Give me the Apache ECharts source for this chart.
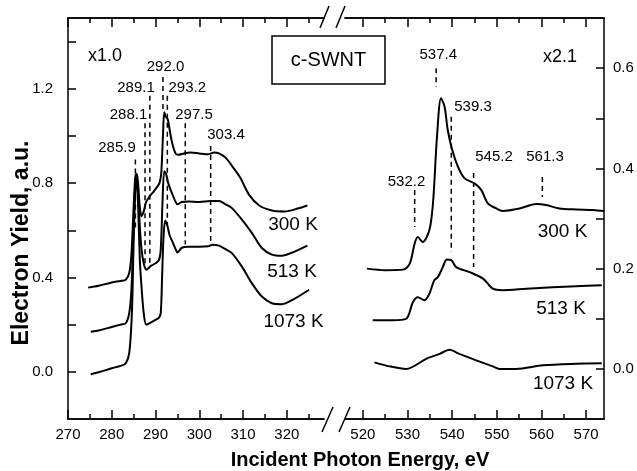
<!DOCTYPE html>
<html>
<head>
<meta charset="utf-8">
<script src="https://cdn.jsdelivr.net/npm/echarts@6/dist/echarts.min.js"></script>
<style>
  html, body { margin: 0; padding: 0; background: #fff; }
  #main { width: 637px; height: 471px; }
</style>
</head>
<body>
<div id="main"></div>
<script>
// C K-edge, left panel (x1.0)
var cE300 = [274.6, 277, 280, 282, 283.2, 284.0, 284.5, 285.0, 285.4, 285.7, 286.0, 286.4, 286.8, 287.3, 287.8, 288.5, 289.6, 290.4, 290.9, 291.3, 291.7, 292.0, 292.4, 292.8, 293.1, 293.8, 294.6, 295.2, 296.5, 298, 300, 302, 303.4, 304.5, 306, 307.5, 309.3, 311.4, 313.7, 316.6, 319.5, 322.5, 324.7];
var c300 = [0.357, 0.365, 0.379, 0.385, 0.39, 0.42, 0.50, 0.70, 0.83, 0.84, 0.80, 0.70, 0.66, 0.68, 0.717, 0.74, 0.765, 0.785, 0.80, 0.84, 1.00, 1.10, 1.08, 1.07, 1.04, 0.97, 0.925, 0.92, 0.926, 0.93, 0.926, 0.922, 0.93, 0.926, 0.908, 0.872, 0.825, 0.75, 0.705, 0.684, 0.68, 0.692, 0.705];

var cE513 = [275.2, 277, 280, 282, 283.2, 284.0, 284.5, 285.0, 285.4, 285.7, 286.0, 286.4, 286.8, 287.3, 287.9, 289.0, 290.0, 290.8, 291.2, 291.6, 292.0, 292.4, 292.9, 293.7, 294.6, 295.0, 296.0, 297.5, 300, 302.6, 304.5, 306, 307.4, 309.7, 312.0, 314.3, 316.6, 318.9, 321.3, 324.7];
var c513 = [0.17, 0.175, 0.19, 0.20, 0.206, 0.25, 0.35, 0.62, 0.80, 0.82, 0.78, 0.62, 0.52, 0.46, 0.433, 0.45, 0.46, 0.475, 0.52, 0.72, 0.85, 0.84, 0.80, 0.76, 0.72, 0.71, 0.72, 0.722, 0.72, 0.724, 0.724, 0.71, 0.695, 0.646, 0.589, 0.525, 0.497, 0.492, 0.506, 0.535];

var cE1073 = [275.2, 277, 280, 282, 283.2, 284.0, 284.6, 285.0, 285.4, 285.7, 286.0, 286.4, 286.8, 287.3, 287.9, 289.0, 290.0, 290.8, 291.2, 291.5, 291.8, 292.2, 292.7, 293.2, 293.9, 294.6, 295.0, 296.0, 297.5, 300, 302, 303.0, 304.5, 306, 307.4, 309.7, 312.0, 314.3, 316.6, 318.9, 321.3, 325.1];
var c1073 = [-0.01, -0.002, 0.015, 0.025, 0.036, 0.08, 0.25, 0.55, 0.78, 0.80, 0.72, 0.48, 0.36, 0.25, 0.20, 0.21, 0.22, 0.23, 0.25, 0.40, 0.56, 0.64, 0.62, 0.58, 0.55, 0.52, 0.506, 0.526, 0.53, 0.53, 0.532, 0.539, 0.535, 0.52, 0.504, 0.447, 0.376, 0.319, 0.291, 0.287, 0.305, 0.348];

// O K-edge, right panel (x2.1)
var oE300 = [520.9, 525, 529.0, 530.5, 531.6, 532.3, 533.4, 534.9, 535.7, 536.6, 537.5, 538.3, 539.0, 540.0, 541.3, 542.8, 545.0, 546.5, 548.0, 549.9, 551.3, 555.1, 558.8, 561.0, 564.0, 567.8, 571.5, 574];
var o300 = [0.200, 0.197, 0.198, 0.210, 0.250, 0.263, 0.253, 0.277, 0.330, 0.463, 0.540, 0.523, 0.477, 0.437, 0.403, 0.380, 0.370, 0.357, 0.330, 0.320, 0.315, 0.320, 0.329, 0.327, 0.320, 0.318, 0.317, 0.315];

var oE513 = [522.2, 526.7, 529.7, 531.2, 532.3, 533.8, 534.9, 536.0, 536.8, 537.9, 538.8, 539.8, 540.9, 543.9, 546.9, 549.1, 551.3, 556.6, 562.5, 567.8, 573.5];
var o513 = [0.097, 0.097, 0.100, 0.133, 0.143, 0.137, 0.150, 0.177, 0.183, 0.203, 0.218, 0.217, 0.203, 0.193, 0.180, 0.160, 0.157, 0.160, 0.163, 0.165, 0.167];

var oE1073 = [522.6, 526, 529.7, 534.2, 537.2, 539.4, 541.6, 545.4, 549.1, 550.6, 554.3, 560.3, 567.8, 573.5];
var o1073 = [0.013, 0.005, 0.000, 0.020, 0.030, 0.038, 0.030, 0.017, 0.005, 0.000, 0.000, 0.007, 0.010, 0.011];

// dashed peak markers
var cMarkE = [285.4, 287.6, 288.7, 291.7, 292.7, 296.8, 302.6];
var cMarkTop = [0.90, 1.054, 1.17, 1.25, 1.17, 1.054, 0.957];
var cMarkBottom = [0.60, 0.44, 0.445, 1.11, 0.62, 0.54, 0.548];
var cMarkText = ['285.9', '288.1', '289.1', '292.0', '293.2', '297.5', '303.4'];

var oMarkE = [531.6, 536.4, 539.8, 544.8, 560.2];
var oMarkTop = [0.357, 0.600, 0.503, 0.391, 0.383];
var oMarkBottom = [0.283, 0.563, 0.233, 0.203, 0.343];
var oMarkText = ['532.2', '537.4', '539.3', '545.2', '561.3'];

// ticks
var xLeftMajor = [270, 280, 290, 300, 310, 320];
var xLeftMinor = [275, 285, 295, 305, 315, 325];
var xRightMajor = [520, 530, 540, 550, 560, 570];
var xRightMinor = [525, 535, 545, 555, 565];
var yLeftTicks = [0, 0.2, 0.4, 0.6, 0.8, 1.0, 1.2, 1.4];
var yLeftLabels = [0, 0.4, 0.8, 1.2];
var yRightTicks = [0, 0.1, 0.2, 0.3, 0.4, 0.5, 0.6];
var yRightLabels = [0, 0.2, 0.4, 0.6];

var FONT = 'Liberation Sans, Arial, Helvetica, sans-serif';
var BLACK = '#000';

function xAxes(gi, min, max, major, minor) {
  var line = { show: true, onZero: false, lineStyle: { color: BLACK, width: 1.5 } };
  var list = [];
  ['bottom', 'top'].forEach(function (pos) {
    list.push({
      gridIndex: gi, type: 'value', position: pos, min: min, max: max,
      axisLine: line, splitLine: { show: false },
      axisTick: { inside: true, length: 9, customValues: major, lineStyle: { color: BLACK, width: 1.5 } },
      axisLabel: pos === 'bottom'
        ? { customValues: major, color: BLACK, fontSize: 15, fontFamily: FONT, margin: 8 }
        : { show: false }
    });
    list.push({
      gridIndex: gi, type: 'value', position: pos, min: min, max: max,
      axisLine: line, splitLine: { show: false },
      axisTick: { inside: true, length: 5, customValues: minor, lineStyle: { color: BLACK, width: 1.5 } },
      axisLabel: { show: false }
    });
  });
  return list;
}

function curve(E, V, xi, yi) {
  return {
    type: 'line', xAxisIndex: xi, yAxisIndex: yi, silent: true,
    data: E.map(function (e, i) { return [e, V[i]]; }),
    showSymbol: false, smooth: 0.3,
    lineStyle: { color: BLACK, width: 2 }
  };
}

function marks(E, T, B, xi, yi) {
  return E.map(function (e, i) {
    return {
      type: 'line', xAxisIndex: xi, yAxisIndex: yi, silent: true,
      data: [[e, T[i]], [e, B[i]]], showSymbol: false,
      lineStyle: { color: BLACK, width: 1.5, type: [5, 4] }
    };
  });
}

function txt(s, x, y, size, bold, rot) {
  return {
    type: 'text', x: x, y: y, rotation: rot || 0, silent: true,
    style: {
      text: s, fill: BLACK, font: (bold ? 'bold ' : '') + size + 'px ' + FONT,
      align: 'center', verticalAlign: 'middle', textAlign: 'center', textVerticalAlign: 'middle'
    }
  };
}

function slash(x1, y1, x2, y2) {
  return { type: 'line', silent: true, shape: { x1: x1, y1: y1, x2: x2, y2: y2 }, style: { stroke: BLACK, lineWidth: 1.5 } };
}

// label spots for the dashed markers
var cMarkPos = [[117, 148], [128.5, 115], [136, 88], [165.5, 67], [187.3, 88], [194, 115], [226, 135]];
var oMarkPos = [[406.5, 182], [438.3, 55], [473, 107], [494, 157], [545, 157]];

var graphics = [
  { type: 'rect', silent: true, shape: { x: 272, y: 36, width: 113, height: 48 }, style: { fill: 'none', stroke: BLACK, lineWidth: 1.5 } },
  txt('c-SWNT', 328.5, 60, 20),
  txt('x1.0', 105, 56, 18),
  txt('x2.1', 560, 57.5, 18),
  txt('300 K', 293, 225, 19),
  txt('513 K', 292, 271.5, 19),
  txt('1073 K', 293.5, 321.5, 19),
  txt('300 K', 562.5, 231.5, 19),
  txt('513 K', 561, 309, 19),
  txt('1073 K', 563, 383.5, 19),
  txt('Incident Photon Energy, eV', 360, 460, 20, true),
  txt('Electron Yield, a.u.', 22, 243, 23, true, Math.PI / 2),
  slash(320, 28, 329, 6), slash(336, 28, 345, 6),
  slash(322, 432, 333, 407), slash(339, 432, 350, 407)
];
cMarkText.forEach(function (s, i) { graphics.push(txt(s, cMarkPos[i][0], cMarkPos[i][1], 15)); });
oMarkText.forEach(function (s, i) { graphics.push(txt(s, oMarkPos[i][0], oMarkPos[i][1], 15)); });

var fmt = function (v) { return v.toFixed(1); };

var chart = echarts.init(document.getElementById('main'));
chart.setOption({
  animation: false,
  backgroundColor: '#fff',
  grid: [
    { left: 68, top: 18, width: 256, height: 401 },
    { left: 345, top: 18, width: 259, height: 401 }
  ],
  xAxis: xAxes(0, 270, 328.5, xLeftMajor, xLeftMinor).concat(xAxes(1, 516, 574, xRightMajor, xRightMinor)),
  yAxis: [
    {
      gridIndex: 0, type: 'value', position: 'left', min: -0.2, max: 1.5,
      axisLine: { show: true, onZero: false, lineStyle: { color: BLACK, width: 1.5 } },
      axisTick: { inside: true, length: 8, customValues: yLeftTicks, lineStyle: { color: BLACK, width: 1.5 } },
      axisLabel: { customValues: yLeftLabels, formatter: fmt, color: BLACK, fontSize: 15, fontFamily: FONT, margin: 15 },
      splitLine: { show: false }
    },
    {
      gridIndex: 1, type: 'value', position: 'right', min: -0.1, max: 0.7,
      axisLine: { show: true, onZero: false, lineStyle: { color: BLACK, width: 1.5 } },
      axisTick: { inside: true, length: 8, customValues: yRightTicks, lineStyle: { color: BLACK, width: 1.5 } },
      axisLabel: { customValues: yRightLabels, formatter: fmt, color: BLACK, fontSize: 15, fontFamily: FONT, margin: 9 },
      splitLine: { show: false }
    }
  ],
  series: [
    curve(cE300, c300, 0, 0),
    curve(cE513, c513, 0, 0),
    curve(cE1073, c1073, 0, 0),
    curve(oE300, o300, 4, 1),
    curve(oE513, o513, 4, 1),
    curve(oE1073, o1073, 4, 1)
  ].concat(marks(cMarkE, cMarkTop, cMarkBottom, 0, 0), marks(oMarkE, oMarkTop, oMarkBottom, 4, 1)),
  graphic: graphics
});
</script>
</body>
</html>
